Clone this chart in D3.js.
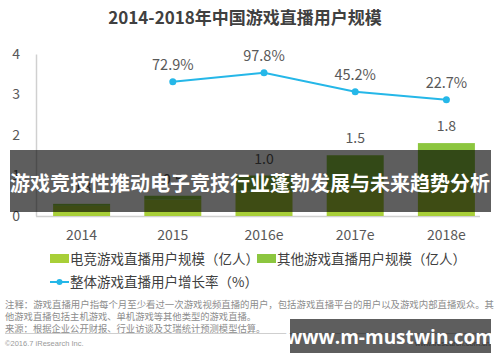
<!DOCTYPE html>
<html><head><meta charset="utf-8">
<script src="https://cdn.jsdelivr.net/npm/d3@7"></script>
<style>body{margin:0;background:#fff}svg{display:block}</style>
</head><body>
<svg id="c" width="500" height="362"></svg>
<script>
const categories = ["2014","2015","2016e","2017e","2018e"];
const esportsUsers = [0.25, 0.4, 0.6, 0.7, 0.8];
const otherUsers = [0.05, 0.1, 0.4, 0.8, 1.0];
const totalLabels = ["0.3","0.5","1.0","1.5","1.8"];
const growthRate = [null, 72.9, 97.8, 45.2, 22.7];
const yTicks = [0,1,2,3,4];
const title = "2014-2018年中国游戏直播用户规模";
const legendLabels = ["电竞游戏直播用户规模（亿人）","其他游戏直播用户规模（亿人）","整体游戏直播用户增长率（%）"];
const notes = ["注释：游戏直播用户指每个月至少看过一次游戏视频直播的用户，包括游戏直播平台的用户以及游戏内部直播观众。其",
  "他游戏直播包括主机游戏、单机游戏等其他类型的游戏直播。",
  "来源：根据企业公开财报、行业访谈及艾瑞统计预测模型估算。"];
const bannerText = "游戏竞技性推动电子竞技行业蓬勃发展与未来趋势分析";
const watermark = "www.m-mustwin.com";

const font = "'Noto Sans CJK SC','Noto Sans',sans-serif";
const cE = "#a8cf38", cO = "#8cc63f", cL = "#25b7e8";
const svg = d3.select("#c").style("font-family", font);

const x = d3.scaleBand().domain(categories).range([36, 492]).paddingInner(0.375).paddingOuter(0.1875);
const y = d3.scaleLinear().domain([0,4]).range([216,54]);
const y2 = d3.scaleLinear().domain([-300,150]).range([216,54]);

svg.append("text").attr("x",245).attr("y",24).attr("text-anchor","middle")
  .attr("font-size",17).attr("font-weight","bold").attr("fill","#404040").text(title);

// axes
const ya = svg.append("g").attr("transform","translate(36,0)").call(d3.axisLeft(y).tickValues(yTicks).tickSize(0).tickPadding(16).tickFormat(d3.format("d")));
ya.select(".domain").attr("stroke","#d0d0d0").attr("stroke-width",1.5);
ya.selectAll("text").attr("font-size",14).attr("fill","#595959").attr("font-family",font);

const xa = svg.append("g").attr("transform","translate(0,216)").call(d3.axisBottom(x).tickSize(0).tickPadding(14));
xa.select(".domain").attr("stroke","#d0d0d0").attr("stroke-width",1.5).attr("d","M36,0.5H480");
xa.selectAll("text").attr("font-size",14).attr("fill","#595959").attr("font-family",font);

// bars
const stack = categories.map((c,i)=>({c, e:esportsUsers[i], o:otherUsers[i]}));
svg.append("g").selectAll("rect.e").data(stack).join("rect")
  .attr("x",d=>x(d.c)).attr("width",x.bandwidth())
  .attr("y",d=>y(d.e)).attr("height",d=>y(0)-y(d.e)).attr("fill",cE);
svg.append("g").selectAll("rect.o").data(stack).join("rect")
  .attr("x",d=>x(d.c)).attr("width",x.bandwidth())
  .attr("y",d=>y(d.e+d.o)).attr("height",d=>y(d.e)-y(d.e+d.o)).attr("fill",cO);
svg.append("g").selectAll("text").data(stack).join("text")
  .attr("x",d=>x(d.c)+x.bandwidth()/2).attr("y",d=>y(d.e+d.o)-12)
  .attr("text-anchor","middle").attr("font-size",14).attr("fill","#595959")
  .text((d,i)=>totalLabels[i]);

// line
const pts = categories.map((c,i)=>({c,v:growthRate[i]})).filter(d=>d.v!=null);
svg.append("path").datum(pts)
  .attr("d",d3.line().x(d=>x(d.c)+x.bandwidth()/2).y(d=>y2(d.v)))
  .attr("fill","none").attr("stroke",cL).attr("stroke-width",2);
svg.append("g").selectAll("circle").data(pts).join("circle")
  .attr("cx",d=>x(d.c)+x.bandwidth()/2).attr("cy",d=>y2(d.v)).attr("r",3.5).attr("fill",cL);
svg.append("g").selectAll("text").data(pts).join("text")
  .attr("x",d=>x(d.c)+x.bandwidth()/2).attr("y",d=>y2(d.v)-12)
  .attr("text-anchor","middle").attr("font-size",14.5).attr("fill","#595959")
  .text(d=>d.v.toFixed(1)+"%");

// legend
const lg = svg.append("g").attr("font-size",13.5).attr("fill","#404040");
lg.append("rect").attr("x",50).attr("y",254).attr("width",19).attr("height",9).attr("fill",cE);
lg.append("text").attr("x",70).attr("y",263.5).text(legendLabels[0]);
lg.append("rect").attr("x",257).attr("y",254).attr("width",19).attr("height",9).attr("fill",cO);
lg.append("text").attr("x",277).attr("y",263.5).text(legendLabels[1]);
lg.append("line").attr("x1",50).attr("x2",69).attr("y1",282).attr("y2",282).attr("stroke",cL).attr("stroke-width",2);
lg.append("circle").attr("cx",59.5).attr("cy",282).attr("r",3).attr("fill",cL);
lg.append("text").attr("x",70).attr("y",287).text(legendLabels[2]);

// notes
svg.append("g").selectAll("text").data(notes).join("text")
  .attr("x",5).attr("y",(d,i)=>308+i*12).attr("font-size",9.3).attr("fill","#8c8c8c")
  .each(function(d,i){ if(i===0) d3.select(this).attr("textLength",489).attr("lengthAdjust","spacingAndGlyphs"); })
  .text(d=>d);
svg.append("line").attr("x1",5).attr("x2",490).attr("y1",333.5).attr("y2",333.5).attr("stroke","#cfcfcf").attr("stroke-width",1);
svg.append("text").attr("x",5).attr("y",346).attr("font-size",7.5).attr("fill","#9a9a9a").attr("font-family","Arial,'Liberation Sans',sans-serif").text("©2016.7 iResearch Inc.");
svg.append("text").attr("x",490).attr("y",346).attr("text-anchor","end").attr("font-size",7.5).attr("fill","#9a9a9a").attr("font-family","Arial,'Liberation Sans',sans-serif").text("www.iresearch.com.cn");

// overlays
svg.append("rect").attr("x",10).attr("y",150).attr("width",481).attr("height",62).attr("fill","rgba(0,0,0,0.63)");
svg.append("text").attr("x",250).attr("y",190.5).attr("text-anchor","middle").attr("font-size",20).attr("font-weight","bold").attr("fill","#fff").text(bannerText);
svg.append("rect").attr("x",290).attr("y",319).attr("width",201).attr("height",34).attr("fill","rgba(0,0,0,0.63)");
svg.append("text").attr("x",390).attr("y",343.5).attr("text-anchor","middle").attr("font-size",19).attr("font-weight","bold").attr("fill","#fff").attr("font-family","'Open Sans','DejaVu Sans',sans-serif").text(watermark);
</script>
</body></html>
